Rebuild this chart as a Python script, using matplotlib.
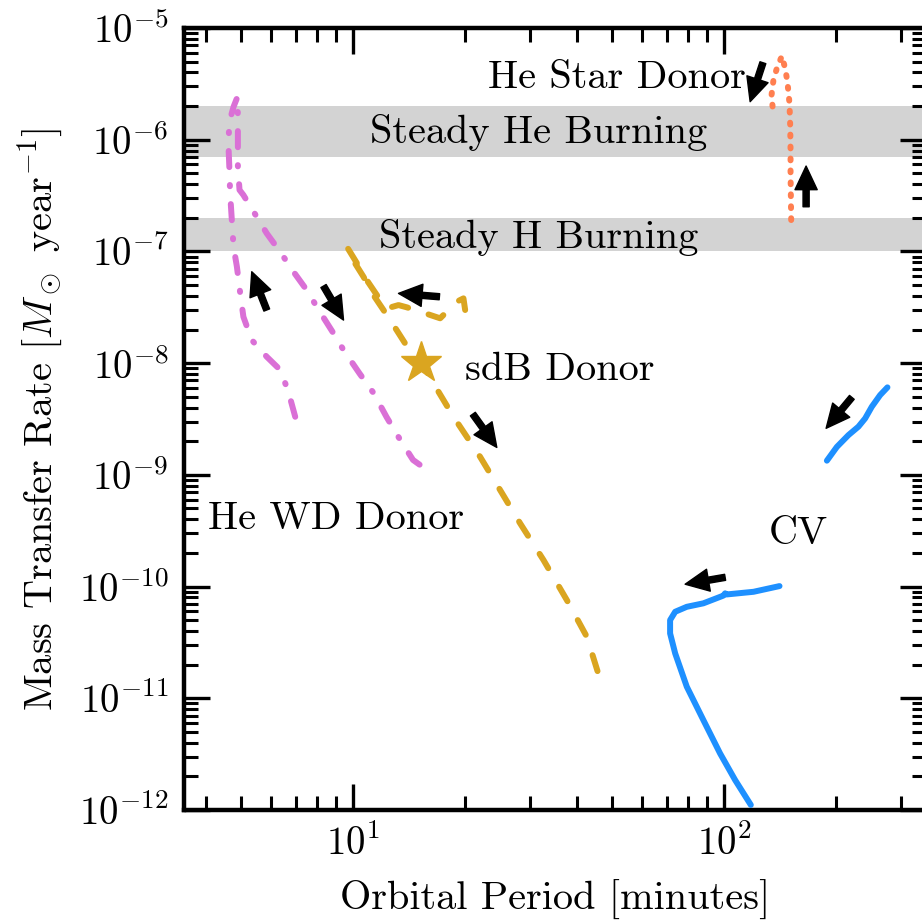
import matplotlib
matplotlib.use("Agg")
import matplotlib.pyplot as plt
from matplotlib.ticker import LogLocator, NullFormatter

plt.rcParams['font.family'] = 'serif'
plt.rcParams['font.serif'] = ['cmr10']
plt.rcParams['mathtext.fontset'] = 'cm'
plt.rcParams['axes.formatter.use_mathtext'] = True

# ---------------- data ----------------
hewd_period = [6.98, 6.69, 6.36, 5.85, 5.33, 5.06, 4.96, 4.86, 4.76, 4.71, 4.66, 4.64, 4.61,
               4.64, 4.76, 4.88, 4.89, 4.89, 4.89, 4.94, 5.06, 5.39, 5.85, 6.36, 6.90, 7.50,
               8.07, 8.85, 9.42, 10.4, 11.35, 12.3, 13.4, 14.5, 15.5, 16.1]
hewd_mdot = [3.31e-9, 5.55e-9, 8.7e-9, 1.14e-8, 1.61e-8, 2.6e-8, 4.25e-8, 7.3e-8, 1.1e-7, 1.9e-7,
             3.3e-7, 5.4e-7, 9.3e-7, 1.45e-6, 1.97e-6, 2.43e-6, 1.55e-6, 9.3e-7, 5.7e-7, 3.55e-7,
             3.2e-7, 2.27e-7, 1.45e-7, 9.9e-8, 6.6e-8, 4.5e-8, 3.0e-8, 1.85e-8, 1.31e-8, 8.1e-9,
             5.4e-9, 3.3e-9, 2.05e-9, 1.36e-9, 1.16e-9, 9.4e-10]

sdb_period = [20.04, 19.83, 19.03, 17.16, 15.16, 13.95, 13.25, 12.33, 11.68, 10.97, 10.31, 9.62,
              10.12, 10.66, 11.34, 12.07, 12.84, 13.81, 15.16, 16.46, 17.52, 18.64, 20.25, 21.99,
              24.90, 28.19, 32.58, 37.67, 42.65, 47.29]
sdb_mdot = [2.99e-8, 3.80e-8, 3.55e-8, 2.52e-8, 2.89e-8, 3.16e-8, 3.31e-8, 3.09e-8, 3.91e-8,
            5.32e-8, 7.55e-8, 1.10e-7, 7.82e-8, 5.94e-8, 4.07e-8, 2.99e-8, 2.19e-8, 1.50e-8,
            1.07e-8, 6.59e-9, 4.67e-9, 3.31e-9, 2.19e-9, 1.45e-9, 7.31e-10, 3.68e-10, 1.73e-10,
            7.57e-11, 3.55e-11, 1.18e-11]
sdb_start_period = [15.2]
sdb_start_mdot = [1.0e-8]

hestar_period = [151.6, 151.3, 151.0, 151.0, 150.7, 150.0, 148.1, 146.0, 143.1, 138.7,
                 135.8, 134.2, 135.3]
hestar_mdot = [1.91e-7, 3.09e-7, 5.04e-7, 8.09e-7, 1.31e-6, 2.12e-6, 3.30e-6, 4.36e-6,
               5.61e-6, 4.36e-6, 3.42e-6, 2.51e-6, 1.85e-6]

cv1_period = [275.5, 263.3, 250.0, 239.9, 230.1, 216.3, 201.3, 189.2]
cv1_mdot = [6.07e-9, 5.18e-9, 4.07e-9, 3.20e-9, 2.70e-9, 2.27e-9, 1.78e-9, 1.34e-9]

cv2_period = [141.0, 120.0, 101.5, 100.6, 99.5, 87.9, 79.3, 73.8, 71.5, 71.5, 73.8, 79.3,
              87.9, 97.5, 107.1, 118.0]
cv2_mdot = [1.01e-10, 8.98e-11, 8.5e-11, 8.7e-11, 8.3e-11, 7.08e-11, 6.59e-11, 5.95e-11,
            5.01e-11, 3.81e-11, 2.52e-11, 1.27e-11, 6.38e-12, 3.21e-12, 1.85e-12, 1.11e-12]

bands = [(7e-7, 2e-6), (1e-7, 2e-7)]
band_labels = ["Steady He Burning", "Steady H Burning"]
band_label_pos = [(31.7, 9.35e-7), (31.7, 1.07e-7)]

labels = ["He Star Donor", "sdB Donor", "He WD Donor", "CV"]
label_pos = [(51.5, 2.9e-6), (36.1, 7.06e-9), (8.97, 3.25e-10), (158.8, 2.39e-10)]

# arrows: (tail, head)
arrows = [((5.85, 2.99e-8), (5.33, 6.58e-8)),
          ((8.32, 4.90e-8), (9.42, 2.43e-8)),
          ((17.08, 3.93e-8), (13.25, 4.21e-8)),
          ((21.02, 3.50e-9), (24.39, 1.76e-9)),
          ((127.2, 4.89e-6), (117.5, 2.19e-6)),
          ((166.3, 2.51e-7), (166.3, 5.81e-7)),
          ((220.9, 4.94e-9), (188.3, 2.61e-9)),
          ((100.6, 1.21e-10), (78.5, 1.05e-10))]

# ---------------- plot ----------------
fig = plt.figure(figsize=(9.22, 9.22), dpi=100)
ax = fig.add_axes([184/922, 112/922, 742/922, 782/922])
ax.set_xscale('log')
ax.set_yscale('log')
ax.set_xlim(3.5, 350)
ax.set_ylim(1e-12, 1e-5)

for (lo, hi) in bands:
    ax.axhspan(lo, hi, color='#d3d3d3', lw=0, zorder=0)
for txt, (x, y) in zip(band_labels, band_label_pos):
    ax.text(x, y, txt, fontsize=29, ha='center', va='baseline', zorder=1)
for txt, (x, y) in zip(labels, label_pos):
    ax.text(x, y, txt, fontsize=29, ha='center', va='baseline', zorder=1)

lw = 4.3
ax.plot(hewd_period, hewd_mdot, color='orchid', lw=lw,
        linestyle=(0, (2.7, 3.0, 0.2, 3.0)), dash_capstyle='round', zorder=3)
ax.plot(sdb_period, sdb_mdot, color='goldenrod', lw=lw,
        linestyle=(0, (2.8, 3.6)), dash_capstyle='round', zorder=3)
ax.plot(sdb_start_period, sdb_start_mdot, marker='*', color='goldenrod', ms=31,
        linestyle='none', zorder=4)
ax.plot(hestar_period, hestar_mdot, color='coral', lw=lw,
        linestyle=(0, (0.3, 1.7)), dash_capstyle='round', zorder=3)
ax.plot(cv1_period, cv1_mdot, color='dodgerblue', lw=lw, solid_capstyle='round', zorder=3)
ax.plot(cv2_period, cv2_mdot, color='dodgerblue', lw=lw, solid_capstyle='round', zorder=3)

for tail, head in arrows:
    ax.annotate('', xy=head, xytext=tail,
                arrowprops=dict(arrowstyle='simple,head_length=0.85,head_width=0.8,tail_width=0.22',
                                color='black', shrinkA=0, shrinkB=0, mutation_scale=20),
                zorder=5)

ax.set_xlabel('Orbital Period [minutes]', fontsize=29, labelpad=12)
ax.set_ylabel(r'Mass Transfer Rate [$M_\odot$ year$^{-1}$]', fontsize=29, labelpad=10)

for s in ax.spines.values():
    s.set_linewidth(3.2)
ax.tick_params(which='both', direction='in', top=True, right=True, labelsize=28)
ax.tick_params(which='major', length=19, width=2.4, pad=11)
ax.tick_params(which='minor', length=10, width=2.2)
ax.yaxis.set_major_locator(LogLocator(base=10, numticks=20))
ax.yaxis.set_minor_locator(LogLocator(base=10, subs=range(2, 10), numticks=20))
ax.xaxis.set_minor_locator(LogLocator(base=10, subs=range(2, 10), numticks=20))
ax.xaxis.set_minor_formatter(NullFormatter())
ax.yaxis.set_minor_formatter(NullFormatter())

fig.savefig('out.png', dpi=100)
